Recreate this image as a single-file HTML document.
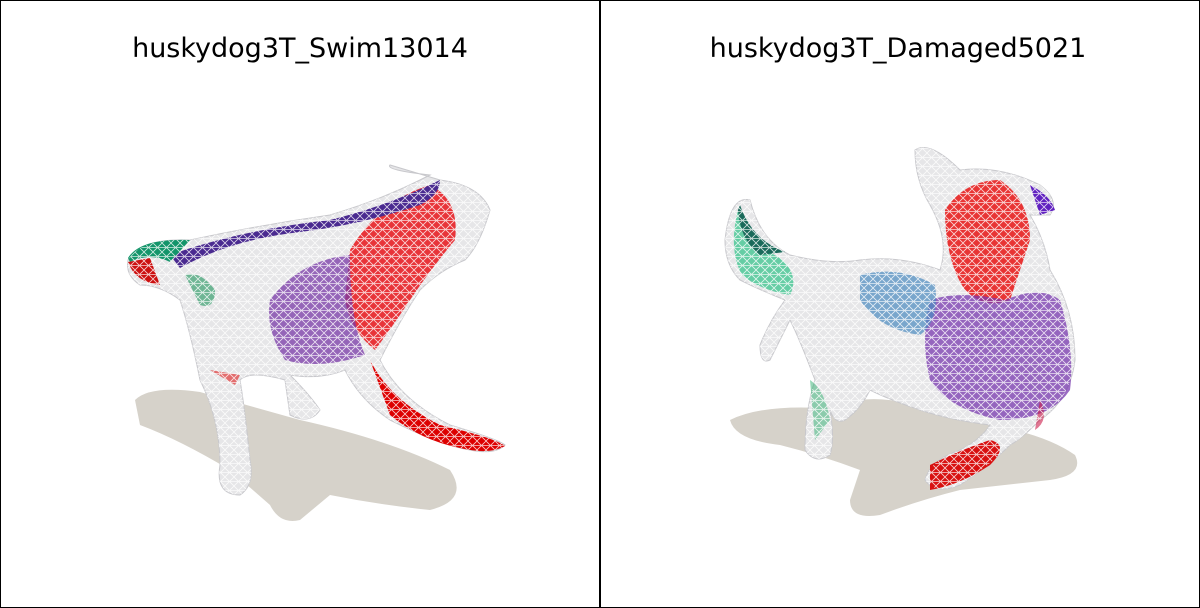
<!DOCTYPE html>
<html><head><meta charset="utf-8"><style>
html,body{margin:0;padding:0;background:#fff;width:1200px;height:608px;overflow:hidden}
svg{display:block}
text{font-family:"DejaVu Sans","Liberation Sans",sans-serif}
</style></head><body>
<svg width="1200" height="608" viewBox="0 0 1200 608">
<defs>
<pattern id="mesh" width="9" height="9" patternUnits="userSpaceOnUse">
<path d="M0 0L9 9M9 0L0 9M0 4.5H9" stroke="#ffffff" stroke-width="0.8" fill="none"/>
</pattern>
</defs>
<rect x="0.5" y="0.5" width="1199" height="607" fill="#fff" stroke="#000"/>
<line x1="600" y1="0" x2="600" y2="608" stroke="#000" stroke-width="2"/>

<g>
<text x="300" y="57" font-size="27" text-anchor="middle" fill="#000">huskydog3T_Swim13014</text>
<path fill="#d6d2ca" d="M135 400 Q150 385 200 392 L300 420 Q390 440 450 470 Q470 500 430 510 Q380 505 330 495 L300 520 Q280 525 270 505 L230 470 Q180 440 140 425 Z"/>
<g>
<path fill="#e6e6e8" stroke="#c8c8cc" d="M128 260 Q140 238 190 240 Q260 225 330 215 Q380 200 420 180 L430 175 Q385 170 390 165 L440 180 Q480 185 490 210 Q480 245 465 260 Q440 270 420 290 Q400 320 380 360 Q400 400 450 425 Q500 440 505 445 Q495 455 470 450 Q440 445 390 420 Q360 400 345 370 Q320 380 290 375 Q310 395 320 410 Q310 425 290 415 L285 380 Q250 370 240 380 Q245 410 250 460 Q255 485 240 495 Q215 495 220 465 Q220 420 200 380 Q190 330 180 300 Q160 285 140 285 Q125 275 128 260 Z"/>
<path fill="#e8141a" opacity="0.85" d="M350 250 Q380 200 430 185 Q460 200 455 240 Q430 270 410 300 Q390 330 375 350 Q350 330 345 300 Z"/>
<path fill="#7a3aa8" opacity="0.75" d="M270 300 Q300 260 350 255 Q350 320 365 355 Q320 370 285 360 Q265 330 270 300 Z"/>
<path fill="#4a2a90" d="M170 255 Q240 230 330 220 Q390 205 440 180 Q440 195 420 205 Q360 225 300 232 Q230 240 180 268 Z"/>
<path fill="#13956a" d="M128 258 Q140 238 190 240 L170 262 Q150 252 130 262 Z"/>
<path fill="#cc1010" d="M128 262 L150 258 L160 285 Q135 282 128 262 Z"/>
<path fill="#3aa070" opacity="0.7" d="M185 275 Q200 270 215 290 Q215 310 200 305 Z"/>
<path fill="#d00" d="M370 360 Q390 400 440 425 Q495 438 505 446 Q490 455 460 448 Q420 440 390 415 Z"/>
<path fill="#e01a1a" opacity="0.6" d="M210 370 L240 375 L235 385 Z"/>
<path fill="url(#mesh)" opacity="0.8" d="M128 260 Q140 238 190 240 Q260 225 330 215 Q380 200 420 180 L440 180 Q480 185 490 210 Q480 245 465 260 Q440 270 420 290 Q400 320 380 360 Q400 400 450 425 Q500 440 505 445 Q495 455 470 450 Q440 445 390 420 Q360 400 345 370 Q320 380 290 375 Q310 395 320 410 Q310 425 290 415 L285 380 Q250 370 240 380 Q245 410 250 460 Q255 485 240 495 Q215 495 220 465 Q220 420 200 380 Q190 330 180 300 Q160 285 140 285 Q125 275 128 260 Z"/>
</g>
</g>

<g>
<text x="898" y="57" font-size="27" text-anchor="middle" fill="#000">huskydog3T_Damaged5021</text>
<path fill="#d6d2ca" d="M730 420 Q760 405 820 408 L860 400 Q900 395 960 420 Q1040 430 1075 455 Q1085 475 1050 480 L960 490 Q920 500 880 515 Q850 520 850 500 L860 470 Q820 455 780 445 Q735 440 730 420 Z"/>
<g>
<path fill="#e6e6e8" stroke="#c8c8cc" d="M725 240 Q730 195 750 200 Q760 240 790 255 Q830 265 860 260 Q900 255 940 270 Q950 240 930 205 Q915 180 915 150 Q930 140 960 170 Q1000 165 1040 185 Q1060 200 1050 215 L1030 215 Q1045 240 1050 270 Q1075 310 1075 360 Q1070 400 1040 420 Q1020 440 1010 445 Q990 465 960 485 Q935 495 925 480 Q930 460 960 450 Q980 440 990 425 Q950 420 920 410 Q890 400 870 390 Q860 410 845 420 Q835 425 830 410 Q835 440 830 455 Q815 465 805 450 Q805 410 815 380 Q800 340 790 320 Q775 350 770 360 Q760 365 760 345 Q770 320 785 300 Q760 290 740 280 Q725 265 725 240 Z"/>
<path fill="#e81414" opacity="0.85" d="M945 210 Q965 180 1000 180 Q1030 200 1030 240 Q1020 270 1010 300 Q985 310 965 290 Q945 260 945 210 Z"/>
<path fill="#7a3ab0" opacity="0.75" d="M930 300 Q960 290 1005 300 Q1040 285 1060 300 Q1075 350 1070 390 Q1050 420 1000 420 Q950 410 930 380 Q920 340 930 300 Z"/>
<path fill="#6020c0" d="M1030 185 Q1050 195 1055 210 L1040 215 Z"/>
<path fill="#4a8ac0" opacity="0.7" d="M860 275 Q900 265 935 285 Q940 320 920 335 Q880 330 860 300 Z"/>
<path fill="#20c080" opacity="0.65" d="M738 210 Q745 240 780 258 Q800 275 790 295 Q760 290 742 275 Q728 250 738 210 Z"/>
<path fill="#1a6a5a" d="M740 205 Q752 240 785 252 L760 255 Q740 240 738 210 Z"/>
<path fill="#30b070" opacity="0.5" d="M810 380 Q825 390 830 420 L815 440 Z"/>
<path fill="#d81010" d="M930 465 Q960 450 990 440 Q1010 445 990 465 Q960 485 930 490 Z"/>
<path fill="#cc1a4a" opacity="0.6" d="M1040 400 Q1050 420 1035 430 Z"/>
<path fill="url(#mesh)" opacity="0.8" d="M725 240 Q730 195 750 200 Q760 240 790 255 Q830 265 860 260 Q900 255 940 270 Q950 240 930 205 Q915 180 915 150 Q930 140 960 170 Q1000 165 1040 185 Q1060 200 1050 215 L1030 215 Q1045 240 1050 270 Q1075 310 1075 360 Q1070 400 1040 420 Q1020 440 1010 445 Q990 465 960 485 Q935 495 925 480 Q930 460 960 450 Q980 440 990 425 Q950 420 920 410 Q890 400 870 390 Q860 410 845 420 Q835 425 830 410 Q835 440 830 455 Q815 465 805 450 Q805 410 815 380 Q800 340 790 320 Q775 350 770 360 Q760 365 760 345 Q770 320 785 300 Q760 290 740 280 Q725 265 725 240 Z"/>
</g>
</g>
</svg>
</body></html>
